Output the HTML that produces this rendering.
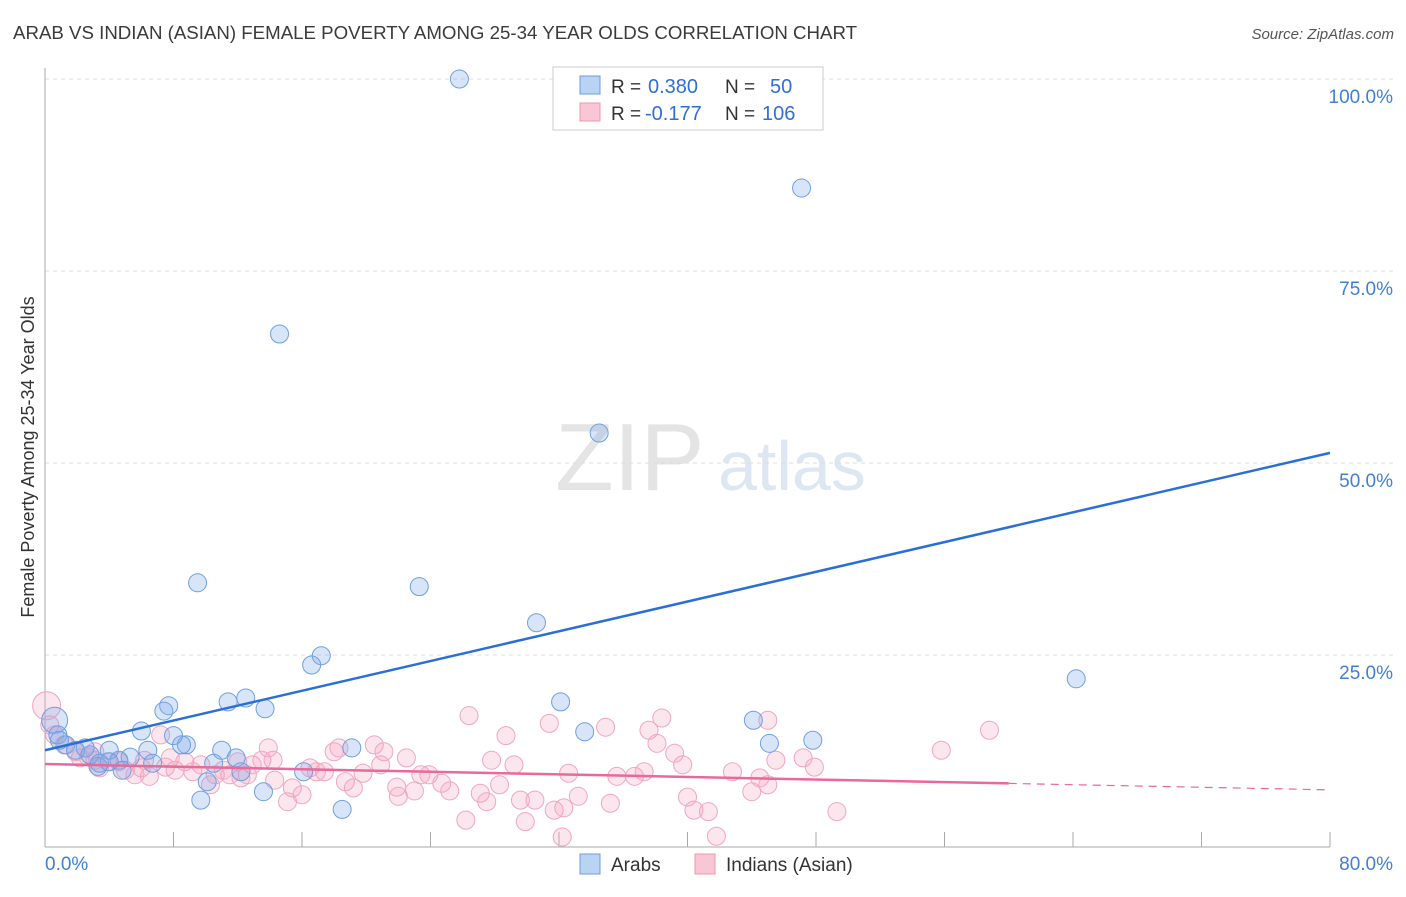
<!DOCTYPE html>
<html><head><meta charset="utf-8"><style>
body{margin:0;background:#fff;font-family:"Liberation Sans",sans-serif;}
svg text{font-family:"Liberation Sans",sans-serif;}
</style></head><body>
<svg id="c" width="1406" height="892" xmlns="http://www.w3.org/2000/svg">
<text x="13" y="39" font-size="18" fill="#3a3a3a" textLength="844" lengthAdjust="spacingAndGlyphs">ARAB VS INDIAN (ASIAN) FEMALE POVERTY AMONG 25-34 YEAR OLDS CORRELATION CHART</text>
<text x="1394" y="39" font-size="15" fill="#555" text-anchor="end" font-style="italic">Source: ZipAtlas.com</text>
<text x="555" y="490" font-size="96" fill="#e4e4e4" font-family="Liberation Serif">ZIP</text>
<text x="718" y="490" font-size="70" fill="#dde7f4">atlas</text>
<text transform="translate(34,457) rotate(-90)" font-size="18" fill="#333" text-anchor="middle">Female Poverty Among 25-34 Year Olds</text>
<g id="grid"></g><g id="pts"></g><g id="lines"></g>
<g>
<rect x="553" y="67" width="270" height="63" fill="#fff" stroke="#ccc"/>
<rect x="580" y="76" width="20" height="18" fill="#b9d3f3" stroke="#6d9be0"/>
<rect x="580" y="103" width="20" height="18" fill="#f9c6d5" stroke="#ec98b2"/>
<text x="611" y="93" font-size="19" fill="#333">R =</text>
<text x="648" y="93" font-size="20" fill="#2f6fd6">0.380</text>
<text x="725" y="93" font-size="19" fill="#333">N =</text>
<text x="770" y="93" font-size="20" fill="#2f6fd6">50</text>
<text x="611" y="120" font-size="19" fill="#333">R =</text>
<text x="645" y="120" font-size="20" fill="#2f6fd6">-0.177</text>
<text x="725" y="120" font-size="19" fill="#333">N =</text>
<text x="762" y="120" font-size="20" fill="#2f6fd6">106</text>
</g>
<g>
<rect x="580" y="854" width="20" height="20" fill="#b9d3f3" stroke="#6d9be0"/>
<text x="611" y="871" font-size="19" fill="#333">Arabs</text>
<rect x="695" y="854" width="20" height="20" fill="#f9c6d5" stroke="#ec98b2"/>
<text x="726" y="871" font-size="19" fill="#333">Indians (Asian)</text>
</g>
</svg>
<script>
const yTicks=[25,50,75,100];
const yTickLabels=["25.0%","50.0%","75.0%","100.0%"];
const xTickVals=[0,8,16,24,32,40,48,56,64,72,80];
const arabX=[25.8,47.1,14.6,34.5,9.5,23.3,30.6,17.2,16.6,64.2,32.1,12.5,11.4,7.7,7.4,13.7,6.0,8.0,8.8,8.5,19.1,44.1,33.6,45.1,47.8,11.0,11.9,6.4,4.0,0.6,0.8,1.3,1.9,2.8,5.3,4.6,3.3,4.8,10.5,12.2,6.7,16.1,10.1,9.7,13.6,18.5,0.9,2.5,4.0,3.4];
const arabY=[100,85.8,66.8,53.9,34.4,33.9,29.2,24.9,23.7,21.9,18.9,19.4,18.9,18.4,17.7,18.0,15.1,14.5,13.3,13.3,12.9,16.5,15.0,13.5,13.9,12.6,11.6,12.6,12.6,16.5,14.6,13.3,12.6,12.0,11.7,11.3,10.5,10.0,10.9,9.8,10.9,9.8,8.5,6.1,7.2,4.9,13.9,12.9,11.1,10.9];
const indX=[0.1,0.3,0.6,1.2,1.9,2.7,2.2,3.1,3.4,3.9,5.0,5.6,6.0,7.2,7.5,8.1,8.7,9.2,9.7,10.3,10.6,11.5,12.2,12.6,12.9,13.5,13.9,14.2,15.1,15.4,16.0,16.5,16.9,17.4,18.0,18.3,18.7,19.2,19.8,20.5,21.1,20.9,21.9,22.0,22.5,23.0,23.4,23.9,24.7,25.2,26.2,26.4,27.1,27.5,27.8,28.3,28.7,29.2,29.6,29.9,30.5,31.4,31.7,32.3,32.6,33.2,34.9,35.2,35.6,36.7,37.3,37.6,38.1,38.4,39.2,39.7,40.0,40.4,41.3,41.8,42.8,44.0,44.5,45.0,45.0,45.5,47.2,47.9,49.3,55.8,58.8,32.2,3.1,7.8,4.6,6.2,11.1,12.0,14.3,6.5];
const indY=[18.4,15.9,14.6,13.3,12.4,11.7,11.6,11.3,10.3,11.1,10.0,9.4,10.3,14.6,10.4,10.0,11.1,9.8,10.7,8.1,9.4,9.4,9.0,9.4,10.7,11.3,12.9,11.3,5.9,7.7,6.8,10.3,9.8,9.8,12.4,12.9,8.5,7.7,9.6,13.3,12.4,10.7,7.8,6.6,11.6,7.3,9.4,9.4,8.3,7.3,3.5,17.1,7.0,5.9,11.3,8.1,14.5,10.7,6.1,3.3,6.1,16.1,4.8,5.1,9.6,6.6,15.6,5.7,9.2,9.2,9.8,15.2,13.5,16.8,12.2,10.7,6.5,4.8,4.6,1.4,9.8,7.2,9.0,8.1,16.5,11.3,11.6,10.4,4.6,12.6,15.2,1.3,12.4,11.6,11.1,11.3,10.0,11.1,8.7,9.2];
const arabFit=[12.6,0.484];
const indFit=[10.8,-0.042];
const X=v=>45+v/80*1285, Y=v=>847-v/25*192;
const NS="http://www.w3.org/2000/svg";
function mk(t,a,p){const e=document.createElementNS(NS,t);for(const k in a)e.setAttribute(k,a[k]);p.appendChild(e);return e;}
const g=document.getElementById('grid');
yTicks.forEach((t,i)=>{
 const l=mk('line',{x1:45,x2:1394,y1:Y(t),y2:Y(t),stroke:'#ddd','stroke-dasharray':'4,4'},g);
 
 
 const tx=mk('text',{x:1393,y:Y(t)+24,'font-size':19,fill:'#3f7fd9','text-anchor':'end'},g);tx.textContent=yTickLabels[i];
 
 
});
let a=mk('line',{x1:45,x2:45,y1:68,y2:847,stroke:'#aaa'},g);


a=mk('line',{x1:45,x2:1330,y1:847,y2:847,stroke:'#aaa'},g);


xTickVals.forEach(v=>{const t=mk('line',{x1:X(v),x2:X(v),y1:832,y2:847,stroke:'#aaa'},g);
 
 });
let t0=mk('text',{x:45,y:870,'font-size':19,fill:'#3f7fd9'},g);t0.textContent='0.0%';


t0=mk('text',{x:1393,y:870,'font-size':19,fill:'#3f7fd9','text-anchor':'end'},g);t0.textContent='80.0%';


const p=document.getElementById('pts');
indX.forEach((x,i)=>{const c=mk('circle',{cx:X(x),cy:Y(indY[i]),r:i==0?14:9,fill:'rgba(245,165,192,0.28)',stroke:'#f0a6be','stroke-width':1},p);
 
 });
arabX.forEach((x,i)=>{const c=mk('circle',{cx:X(x),cy:Y(arabY[i]),r:i==29?13:9,fill:'rgba(125,170,235,0.3)',stroke:'#6f9fe0','stroke-width':1},p);
 
 });
const L=document.getElementById('lines');
let ln=mk('line',{x1:X(0),y1:Y(arabFit[0]),x2:X(80),y2:Y(arabFit[0]+arabFit[1]*80),stroke:'#2a6fd6','stroke-width':2.5},L);


ln=mk('line',{x1:X(0),y1:Y(indFit[0]),x2:X(60),y2:Y(indFit[0]+indFit[1]*60),stroke:'#e8699a','stroke-width':2.5},L);


ln=mk('line',{x1:X(60),y1:Y(indFit[0]+indFit[1]*60),x2:X(80),y2:Y(indFit[0]+indFit[1]*80),stroke:'#e8699a','stroke-width':1.2,'stroke-dasharray':'8,6'},L);


</script>
</body></html>
